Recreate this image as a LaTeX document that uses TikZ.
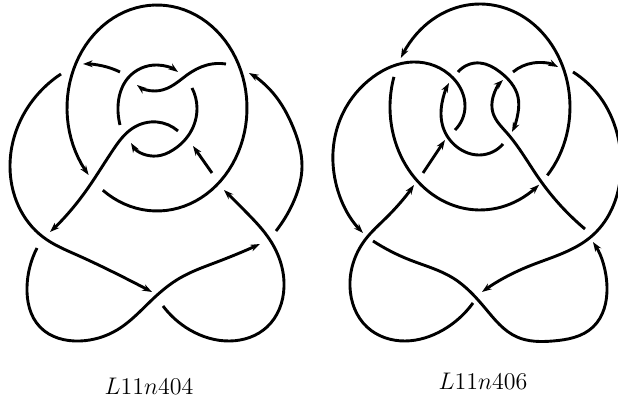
\documentclass[tikz,border=0pt]{standalone}
\usepackage{tikz}
\usetikzlibrary{arrows.meta,hobby}

\begin{document}
\begin{tikzpicture}[
  x=0.5pt,y=-0.5pt,
  >={Stealth[length=4.8pt,width=3.4pt]},
  every node/.style={font=\fontsize{11.8}{14}\selectfont},
  strand/.style={line width=1.45pt},
  arr/.style={strand,->,use Hobby shortcut}
]
\useasboundingbox (0,0) rectangle (618,400);
% left knot
\draw[strand,->] plot[domain=127:-220.6,samples=90] ({157+90*cos(\x)},{108+103*sin(\x)});
\draw[arr] (61,74) .. (33,100) .. (10,167) .. (43,237) .. (77,255) .. (113,272) .. (152,292);
\draw[arr] (37,248) .. (27,287) .. (40,327) .. (80,341) .. (117,330) .. (155,297) .. (180,278) .. (217,262) .. (260,244);
\draw[arr] (163,306) .. (190,330) .. (230,341) .. (267,327) .. (284,287) .. (270,240) .. (247,213) .. (224,190);
\draw[arr] (276,231) .. (293,203) .. (302,167) .. (293,127) .. (273,93) .. (249,73);
\draw[arr] (120,125) .. (118,107) .. (128,78) .. (157,65) .. (178,72);
\draw[arr] (226,64) .. (207,65) .. (187,75) .. (170,87) .. (155,91) .. (137,85);
\draw[arr] (120,72) .. (103,66) .. (83,64);
\draw[arr] (192,88) .. (197,108) .. (190,133) .. (173,150) .. (157,156) .. (131,143);
\draw[arr] (178,131) .. (157,122) .. (133,128) .. (113,150) .. (83,195) .. (50,232);
\draw[strand,->] (212,173) -- (193,146);
\node (lab404) at (149,386) {$L11n404$};
% right knot
\draw[strand,->] plot[domain=41.6:-151.5,samples=60] ({480+90*cos(\x)},{107+103*sin(\x)});
\draw[strand,->] plot[domain=197:49,samples=50] ({480+90*cos(\x)},{107+103*sin(\x)});
\draw[arr] (455,130) .. (465,107) .. (453,78) .. (413,62) .. (373,77) .. (343,113) .. (333,163) .. (363,233);
\draw[arr] (473,303) .. (443,330) .. (405,341) .. (367,327) .. (350,287) .. (365,240) .. (387,217) .. (414,185);
\draw[strand,->] (423,173) -- (445,140);
\draw[arr] (373,241) .. (410,260) .. (453,278) .. (485,308) .. (517,337) .. (553,341) .. (593,327) .. (607,287) .. (593,242);
\draw[arr] (573,72) .. (600,97) .. (617,133) .. (621,170) .. (593,235) .. (527,267) .. (482,292);
\draw[arr] (585,229) .. (540,180) .. (507,133) .. (493,113) .. (493,97) .. (503,80);
\draw[arr] (458,72) .. (480,63) .. (500,72) .. (518,97) .. (518,113) .. (512,132);
\draw[arr] (503,144) .. (480,155) .. (457,147) .. (443,127) .. (442,103) .. (449,83);
\draw[arr] (513,72) .. (533,63) .. (558,67);
\node (lab406) at (483,381) {$L11n406$};
\end{tikzpicture}
\end{document}
